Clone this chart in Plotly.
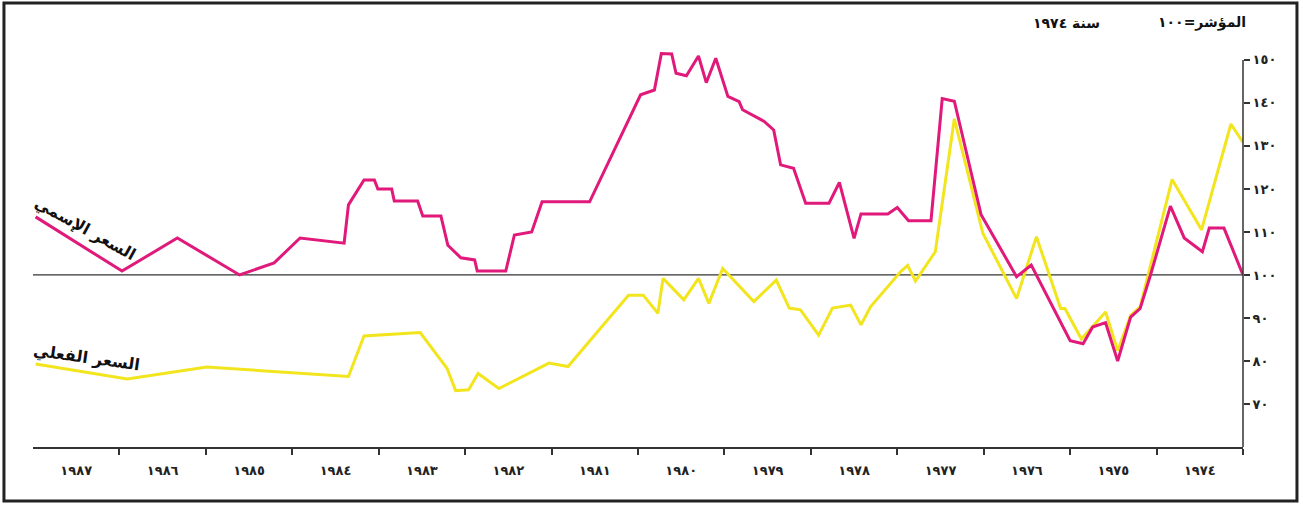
import plotly.graph_objects as go

AR = str.maketrans("0123456789", "٠١٢٣٤٥٦٧٨٩")

# Nominal price index (magenta), time in fractional years, 1974 = 100
nominal_t = [1987.97, 1986.97, 1986.33, 1985.61, 1985.21, 1984.91, 1984.40, 1984.35, 1984.17, 1984.05,
             1984.01, 1983.85, 1983.82, 1983.55, 1983.49, 1983.28, 1983.20, 1983.05, 1982.89, 1982.86,
             1982.53, 1982.43, 1982.23, 1982.11, 1981.56, 1980.97, 1980.81, 1980.73, 1980.61, 1980.56,
             1980.44, 1980.30, 1980.21, 1980.10, 1979.96, 1979.83, 1979.79, 1979.64, 1979.54, 1979.43,
             1979.35, 1979.20, 1979.06, 1978.79, 1978.67, 1978.50, 1978.42, 1978.11, 1978.00, 1977.87,
             1977.61, 1977.48, 1977.34, 1977.03, 1976.62, 1976.45, 1976.00, 1975.85, 1975.74, 1975.59,
             1975.45, 1975.30, 1975.19, 1975.07, 1974.84, 1974.68, 1974.47, 1974.39, 1974.22, 1974.00]
nominal_v = [113.5, 100.9, 108.6, 100.0, 102.8, 108.6, 107.4, 116.3, 122.1, 122.1,
             120.0, 120.0, 117.2, 117.2, 113.7, 113.7, 106.9, 104.0, 103.5, 100.9,
             100.9, 109.3, 110.0, 117.0, 117.0, 141.9, 143.0, 151.5, 151.4, 146.9,
             146.3, 150.9, 144.7, 150.4, 141.5, 140.3, 138.4, 136.8, 135.7, 133.7,
             125.6, 124.8, 116.7, 116.7, 121.5, 108.5, 114.2, 114.2, 115.7, 112.6,
             112.6, 141.0, 140.4, 114.0, 99.6, 102.3, 84.7, 84.0, 87.9, 88.9,
             80.0, 90.2, 92.2, 100.0, 116.0, 108.6, 105.4, 110.9, 110.9, 100.0]

# Real price index (yellow)
real_t = [1987.97, 1986.91, 1985.99, 1984.35, 1984.17, 1983.52, 1983.21, 1983.11, 1982.96, 1982.85,
          1982.61, 1982.03, 1981.81, 1981.11, 1980.94, 1980.77, 1980.71, 1980.47, 1980.30, 1980.18,
          1980.02, 1979.66, 1979.40, 1979.25, 1979.12, 1978.91, 1978.75, 1978.54, 1978.42, 1978.31,
          1977.96, 1977.88, 1977.79, 1977.56, 1977.34, 1977.01, 1976.62, 1976.39, 1976.11, 1976.06,
          1975.87, 1975.59, 1975.45, 1975.30, 1975.19, 1974.82, 1974.48, 1974.14, 1974.00]
real_v = [79.3, 75.8, 78.6, 76.4, 85.8, 86.6, 78.3, 73.1, 73.3, 77.1,
          73.6, 79.5, 78.7, 95.3, 95.3, 91.1, 99.2, 94.2, 99.2, 93.4,
          101.5, 93.8, 98.8, 92.3, 91.9, 86.0, 92.3, 93.0, 88.4, 92.6,
          100.8, 102.2, 98.6, 105.4, 136.3, 109.7, 94.5, 108.9, 92.2, 92.2,
          85.1, 91.4, 82.4, 90.6, 92.6, 122.2, 110.5, 135.1, 130.8]

years = list(range(1974, 1988))
year_labels = [str(y).translate(AR) for y in years]
y_ticks = [70, 80, 90, 100, 110, 120, 130, 140, 150]
y_labels = [str(v).translate(AR) for v in y_ticks]

label_nominal = "السعر الإسمي"
label_real = "السعر الفعلي"
title_index = "\u202bالمؤشر=" + "100".translate(AR) + "\u202c"
title_year = "\u202bسنة " + "1974".translate(AR) + "\u202c"

FONT = "DejaVu Sans"

fig = go.Figure()
fig.add_trace(go.Scatter(x=real_t, y=real_v, mode="lines",
                         line=dict(color="#F2E51E", width=3), showlegend=False))
fig.add_trace(go.Scatter(x=nominal_t, y=nominal_v, mode="lines",
                         line=dict(color="#E0197A", width=3), showlegend=False))

fig.update_layout(
    width=1303, height=505,
    margin=dict(l=33, r=60, t=47, b=58),
    paper_bgcolor="white", plot_bgcolor="white",
    font=dict(family=FONT, color="#222"),
    xaxis=dict(
        range=[1988, 1974], autorange=False, showgrid=False, zeroline=False,
        showline=True, linecolor="#333", linewidth=2,
        tickmode="array", tickvals=[y + 0.5 for y in years], ticktext=year_labels,
        ticks="", ticklabelstandoff=10,
        tickfont=dict(family=FONT, size=13, color="#222", weight="bold"),
        minor=dict(tickmode="array", tickvals=years, ticks="outside", ticklen=6,
                   tickwidth=1.5, tickcolor="#333"),
    ),
    yaxis=dict(
        range=[60, 153], autorange=False, side="right", showgrid=False, zeroline=False,
        showline=False, tickmode="array", tickvals=y_ticks, ticktext=y_labels,
        ticks="outside", ticklen=6, tickwidth=1.5, tickcolor="#333",
        tickfont=dict(family=FONT, size=13, color="#222", weight="bold"),
    ),
    shapes=[
        dict(type="line", xref="paper", yref="y", x0=1, x1=1, y0=60, y1=150,
             line=dict(color="#333", width=1.5)),
        dict(type="line", xref="paper", yref="y", x0=0, x1=1, y0=100, y1=100,
             line=dict(color="#333", width=1.2), layer="below"),
        dict(type="rect", xref="paper", yref="paper",
             x0=-0.024, x1=1.0446, y0=-0.135, y1=1.11,
             line=dict(color="#222", width=3)),
    ],
    annotations=[
        dict(text=label_nominal, xref="paper", yref="paper", x=0.043, y=0.545,
             showarrow=False, textangle=29, xanchor="center", yanchor="middle",
             font=dict(family=FONT, size=16, color="#111", weight="bold")),
        dict(text=label_real, xref="paper", yref="paper", x=0.044, y=0.222,
             showarrow=False, textangle=8, xanchor="center", yanchor="middle",
             font=dict(family=FONT, size=16, color="#111", weight="bold")),
        dict(text=title_index, xref="paper", yref="paper", x=1.0041, y=1.06,
             showarrow=False, xanchor="right", yanchor="middle",
             font=dict(family=FONT, size=14, color="#111", weight="bold")),
        dict(text=title_year, xref="paper", yref="paper", x=0.8835, y=1.06,
             showarrow=False, xanchor="right", yanchor="middle",
             font=dict(family=FONT, size=14, color="#111", weight="bold")),
    ],
)

fig.write_html("out.html", config={"displayModeBar": False},
               post_script="document.body.style.margin='0';document.body.style.overflow='hidden';")
